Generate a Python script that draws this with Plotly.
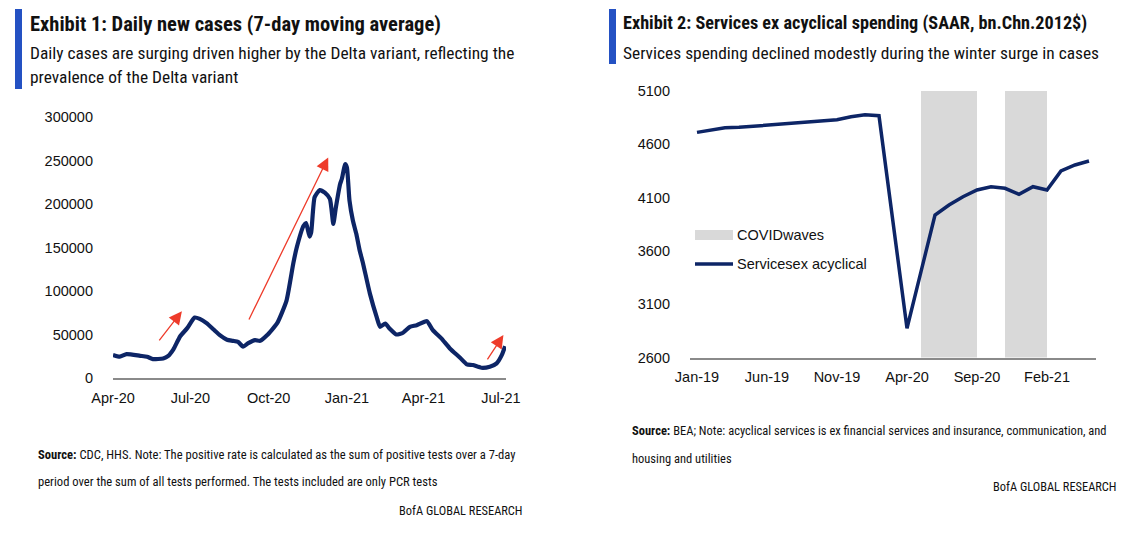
import plotly.graph_objects as go

# page body has an 8px margin, so the figure is drawn at (8, 8) inside the 1146x536 window
OFF = 8
W, H = 1146 - 2 * OFF, 536 - 2 * OFF

# ---------------- Exhibit 1 data: daily new cases (7-day avg) ----------------
case_dates = [
    "2020-04-01", "2020-04-09", "2020-04-17", "2020-05-03", "2020-05-11", "2020-05-18",
    "2020-05-30", "2020-06-05", "2020-06-11", "2020-06-19", "2020-06-27", "2020-07-06",
    "2020-07-12", "2020-07-20", "2020-07-28", "2020-08-05", "2020-08-13", "2020-08-20",
    "2020-08-26", "2020-09-01", "2020-09-07", "2020-09-15", "2020-09-21", "2020-09-29",
    "2020-10-11", "2020-10-22", "2020-10-30", "2020-11-03", "2020-11-11", "2020-11-14",
    "2020-11-18", "2020-11-20", "2020-11-24", "2020-11-30", "2020-12-06", "2020-12-12",
    "2020-12-16", "2020-12-19", "2020-12-24", "2020-12-26", "2020-12-30", "2021-01-01",
    "2021-01-04", "2021-01-08", "2021-01-12", "2021-01-16", "2021-01-20", "2021-01-28",
    "2021-02-05", "2021-02-09", "2021-02-15", "2021-02-20", "2021-02-28", "2021-03-08",
    "2021-03-16", "2021-03-24", "2021-04-05", "2021-04-12", "2021-04-22", "2021-05-02",
    "2021-05-14", "2021-05-22", "2021-05-29", "2021-06-08", "2021-06-18", "2021-06-26",
    "2021-07-02", "2021-07-06",
]
case_values = [
    26500, 24500, 27500, 25500, 24500, 21700,
    22500, 25500, 33000, 48000, 57000, 69500,
    68000, 63000, 56000, 49000, 44000, 42700,
    41500, 36000, 40000, 43500, 42700, 49000,
    63000, 89000, 132000, 150000, 175000, 178000,
    162600, 167600, 207700, 216000, 213000, 205800,
    177000, 196000, 223000, 228700, 246000, 242000,
    204000, 181000, 165700, 146600, 131400, 97000,
    70000, 58800, 62600, 57000, 50000, 52000,
    58800, 60700, 65300, 55000, 45500, 34000,
    23300, 15700, 14900, 11800, 13000, 16800,
    26300, 36600,
]
case_tick_dates = ["2020-04-01", "2020-07-01", "2020-10-01", "2021-01-01", "2021-04-01", "2021-07-01"]
case_tick_labels = ["Apr-20", "Jul-20", "Oct-20", "Jan-21", "Apr-21", "Jul-21"]
case_y_ticks = [0, 50000, 100000, 150000, 200000, 250000, 300000]

# red trend arrows (tail -> head), in data units
arrow_tail_dates = ["2020-05-24", "2020-09-07", "2021-06-14"]
arrow_tail_vals = [41600, 65600, 19800]
arrow_head_dates = ["2020-06-21", "2020-12-10", "2021-07-04"]
arrow_head_vals = [76700, 253500, 49300]

# ---------------- Exhibit 2 data: services ex acyclical ----------------
months = [
    "Jan-19", "Feb-19", "Mar-19", "Apr-19", "May-19", "Jun-19", "Jul-19", "Aug-19",
    "Sep-19", "Oct-19", "Nov-19", "Dec-19", "Jan-20", "Feb-20", "Mar-20", "Apr-20",
    "May-20", "Jun-20", "Jul-20", "Aug-20", "Sep-20", "Oct-20", "Nov-20", "Dec-20",
    "Jan-21", "Feb-21", "Mar-21", "Apr-21", "May-21",
]
services = [
    4712, 4734, 4756, 4759, 4769, 4781, 4788, 4797,
    4809, 4825, 4831, 4859, 4878, 4868, 3871, 2874,
    3405, 3937, 4031, 4108, 4171, 4202, 4187, 4131,
    4202, 4171, 4350, 4406, 4443,
]
covid_waves = [
    None, None, None, None, None, None, None, None,
    None, None, None, None, None, None, None, None,
    5100, 5100, 5100, 5100, None, None, 5100, 5100,
    5100, None, None, None, None,
]
serv_tick_labels = ["Jan-19", "Jun-19", "Nov-19", "Apr-20", "Sep-20", "Feb-21"]
serv_y_ticks = [2600, 3100, 3600, 4100, 4600, 5100]

# ---------------- styling ----------------
NAVY = "#0d2566"
RED = "#ee3b2a"
GREY_BAR = "#d9d9d9"
AXIS_GREY = "#8a8a8a"
BLUE = "#2451c3"
TXT = "#111111"
CHART_FONT = "Liberation Sans, Arial, sans-serif"
TEXT_FONT = "Liberation Sans Narrow, Roboto Condensed, Liberation Sans, sans-serif"
TICK_SIZE = 14.5


def px(x):
    return (x - OFF) / W


def py(y):
    return 1 - (y - OFF) / H


fig = go.Figure()

fig.add_trace(go.Scatter(
    x=case_dates, y=case_values, mode="lines",
    line=dict(color=NAVY, width=4.2, shape="spline", smoothing=0.5),
    xaxis="x", yaxis="y", showlegend=False, name="Daily new cases",
))

fig.add_trace(go.Bar(
    x=months, y=covid_waves, marker=dict(color=GREY_BAR, line=dict(width=0)),
    width=1, offset=0, xaxis="x2", yaxis="y2", showlegend=False, name="COVIDwaves",
))
fig.add_trace(go.Scatter(
    x=months, y=services, mode="lines", line=dict(color=NAVY, width=3.5),
    xaxis="x2", yaxis="y2", showlegend=False, name="Servicesex acyclical",
))

axis_common = dict(showgrid=False, zeroline=False, ticks="", automargin=False,
                   tickfont=dict(family=CHART_FONT, size=TICK_SIZE, color=TXT))

fig.update_layout(
    width=W, height=H, margin=dict(l=0, r=0, t=0, b=0, pad=0, autoexpand=False),
    paper_bgcolor="white", plot_bgcolor="white", showlegend=False, bargap=0,
    xaxis=dict(domain=[px(113), px(506)], type="date",
               range=["2020-04-01", "2021-07-07"],
               tickvals=case_tick_dates, ticktext=case_tick_labels,
               showline=True, linecolor=AXIS_GREY, linewidth=2,
               ticklabelstandoff=6, anchor="y", **axis_common),
    yaxis=dict(domain=[py(378), py(117)], range=[0, 300000],
               tickvals=case_y_ticks, ticktext=[str(v) for v in case_y_ticks],
               showline=False, ticklabelstandoff=19, anchor="x", **axis_common),
    xaxis2=dict(domain=[px(690), px(1096)], type="category",
                range=[-0.5, len(months) - 0.5],
                tickvals=serv_tick_labels, ticktext=serv_tick_labels,
                showline=True, linecolor=AXIS_GREY, linewidth=2,
                ticklabelstandoff=5, anchor="y2", **axis_common),
    yaxis2=dict(domain=[py(357.5), py(91)], range=[2600, 5100],
                tickvals=serv_y_ticks, ticktext=[str(v) for v in serv_y_ticks],
                showline=False, ticklabelstandoff=19, anchor="x2", **axis_common),
)

annotations = []
for td, tv, hd, hv in zip(arrow_tail_dates, arrow_tail_vals, arrow_head_dates, arrow_head_vals):
    annotations.append(dict(
        x=hd, y=hv, ax=td, ay=tv, xref="x", yref="y", axref="x", ayref="y",
        text="", showarrow=True, arrowhead=2, arrowsize=2, arrowwidth=1.3,
        arrowcolor=RED, standoff=0,
    ))


def txt(x, y, text, size, anchor="left", bold=False, font=TEXT_FONT):
    t = f"<b>{text}</b>" if bold else text
    annotations.append(dict(
        x=px(x), y=py(y), xref="paper", yref="paper", text=t, showarrow=False,
        xanchor=anchor, yanchor="middle", align=anchor,
        font=dict(family=font, size=size, color=TXT),
    ))


# titles
txt(28, 24, "Exhibit 1: Daily new cases (7-day moving average)", 20.5, bold=True)
txt(28, 53, "Daily cases are surging driven higher by the Delta variant, reflecting the", 17.4)
txt(28, 77.5, "prevalence of the Delta variant", 17.4)
txt(621, 23, "Exhibit 2: Services ex acyclical spending (SAAR, bn.Chn.2012$)", 18.2, bold=True)
txt(621, 53, "Services spending declined modestly during the winter surge in cases", 17.4)

# footnotes
txt(36, 454, "<b>Source:</b> CDC, HHS. Note: The positive rate is calculated as the sum of positive tests over a 7-day", 12.6)
txt(36, 481, "period over the sum of all tests performed. The tests included are only PCR tests", 12.6)
txt(525, 510, "BofA GLOBAL RESEARCH", 12.4, anchor="right")
txt(630, 430, "<b>Source:</b> BEA; Note: acyclical services is ex financial services and insurance, communication, and", 12.5)
txt(630, 458, "housing and utilities", 12.5)
txt(1119, 486, "BofA GLOBAL RESEARCH", 12.4, anchor="right")

# manual legend for Exhibit 2
txt(735, 235, "COVIDwaves", TICK_SIZE, font=CHART_FONT)
txt(735, 264, "Servicesex acyclical", TICK_SIZE, font=CHART_FONT)

shapes = [
    dict(type="rect", xref="paper", yref="paper", x0=px(15), x1=px(22), y0=py(89), y1=py(9),
         fillcolor=BLUE, line=dict(width=0)),
    dict(type="rect", xref="paper", yref="paper", x0=px(609), x1=px(616), y0=py(64), y1=py(9),
         fillcolor=BLUE, line=dict(width=0)),
    dict(type="rect", xref="paper", yref="paper", x0=px(695), x1=px(733), y0=py(240), y1=py(230),
         fillcolor=GREY_BAR, line=dict(width=0)),
    dict(type="line", xref="paper", yref="paper", x0=px(695), x1=px(733), y0=py(264), y1=py(264),
         line=dict(color=NAVY, width=3.5)),
]

fig.update_layout(annotations=annotations, shapes=shapes)
fig.write_html("out.html")
